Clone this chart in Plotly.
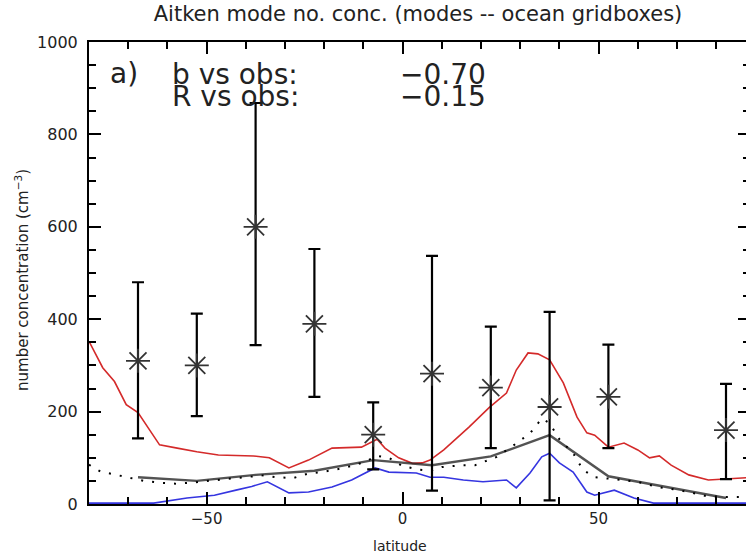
import plotly.graph_objects as go

# ---------------- data ----------------
red_lat = [-80, -76.5, -73.5, -70.5, -67.5, -65, -62, -57.5, -52.5, -47, -38, -34, -29, -24, -18,
           -10.5, -6.5, -4.5, -1, 2.5, 5, 7, 10.5, 17, 22, 26.5, 29, 32, 34.5, 37.5, 41, 44.5, 47,
           49, 52.5, 56.5, 60, 63, 65.5, 68.5, 73, 78, 82, 88, 90]
red_val = [352, 295, 265, 215, 198, 167, 128, 121, 113, 106, 104, 100, 78, 95, 121,
           123, 140, 121, 100, 88, 89, 95, 117, 167, 208, 240, 290, 327, 325, 312, 262, 188, 154,
           149, 123, 132, 117, 100, 104, 84, 63, 52, 54, 57, 58]

blue_lat = [-80, -63.5, -55, -48, -42.5, -38.5, -34.5, -29, -24, -18, -13, -7, -3.5, 0.5, 3.5, 7,
            10.5, 15.5, 20.5, 26.5, 29, 32.5, 35.5, 37.5, 40, 43.5, 47, 49, 54, 59, 64, 90]
blue_val = [2, 2, 13, 19, 30, 38, 48, 24, 26, 37, 52, 78, 69, 67, 67, 58,
            58, 52, 48, 52, 35, 67, 102, 110, 89, 69, 26, 19, 30, 13, 2, 2]

mean_lat = [-67.5, -52.5, -37.5, -22.5, -7.5, 7.5, 22.5, 37.5, 52.5, 67.5, 82.5]
mean_val = [58, 50, 63, 72, 95, 84, 103, 149, 60, 36, 13]

dot_lat = [-80, -77, -73, -70, -66, -62, -58, -54, -50, -45, -40, -36, -32, -28, -24, -20, -15, -10,
           -6.5, -3.5, 0, 4.5, 7, 10, 15.5, 18.5, 24, 28, 32.5, 35.5, 37.5, 40, 43.5, 46, 49, 52,
           56, 60, 65, 69, 73, 77, 82, 86, 90]
dot_val = [85, 70, 63, 57, 50, 46, 44, 46, 50, 54, 58, 62, 58, 56, 66, 70, 78, 90,
           104, 100, 82, 74, 72, 80, 84, 84, 102, 125, 153, 185, 175, 140, 110, 74, 58, 56,
           52, 48, 37, 32, 26, 18, 15, 15, 15]

obs_lat = [-67.5, -52.5, -37.5, -22.5, -7.5, 7.5, 22.5, 37.5, 52.5, 82.5]
obs_val = [310, 300, 600, 390, 150, 282, 252, 210, 232, 160]
obs_hi = [480, 412, 868, 552, 220, 537, 384, 416, 345, 260]
obs_lo = [142, 190, 344, 232, 75, 29, 121, 8, 121, 54]

x_ticks = [-50, 0, 50]
y_ticks = [0, 200, 400, 600, 800, 1000]

title_text = "Aitken mode no. conc. (modes -- ocean gridboxes)"
xlabel = "latitude"
ylabel = "number concentration (cm<sup>−3</sup>)"
stat_labels = ["b vs obs:", "R vs obs:"]
stat_values = ["−0.70", "−0.15"]
panel_label = "a)"

# ---------------- figure ----------------
FONT = "DejaVu Sans"
TXT = "#222222"

fig = go.Figure()

fig.add_trace(go.Scatter(x=red_lat, y=red_val, mode="lines",
                         line=dict(color="#d42a2a", width=1.6), hoverinfo="skip"))
fig.add_trace(go.Scatter(x=blue_lat, y=blue_val, mode="lines",
                         line=dict(color="#3535e0", width=1.6), hoverinfo="skip"))
fig.add_trace(go.Scatter(x=mean_lat, y=mean_val, mode="lines",
                         line=dict(color="rgba(40,40,40,0.8)", width=2.4), hoverinfo="skip"))
fig.add_trace(go.Scatter(x=dot_lat, y=dot_val, mode="lines",
                         line=dict(color="black", width=2, dash="2px,9px"), hoverinfo="skip"))

err_plus = [h - v for h, v in zip(obs_hi, obs_val)]
err_minus = [v - l for v, l in zip(obs_val, obs_lo)]
fig.add_trace(go.Scatter(
    x=obs_lat, y=obs_val, mode="markers",
    marker=dict(symbol="asterisk-open", size=20, color="#333333",
                line=dict(color="#333333", width=1.8)),
    error_y=dict(type="data", symmetric=False, array=err_plus, arrayminus=err_minus,
                 color="black", thickness=2.2, width=6),
    hoverinfo="skip"))

# empty trace so the right-side tick axis is drawn
fig.add_trace(go.Scatter(x=[None], y=[None], yaxis="y2", mode="lines", hoverinfo="skip"))

L, R, T, B = 89, 0, 42, 54
W, H = 746, 558
pw, ph = W - L - R, H - T - B


def px_x(px):
    return (px - L) / pw


def px_y(py):
    return (H - B - py) / ph


annotations = [
    dict(text=panel_label, x=px_x(108), y=px_y(73), xref="paper", yref="paper",
         xanchor="left", yanchor="middle", showarrow=False,
         font=dict(family=FONT, size=28, color=TXT)),
]
for i, (lab, val) in enumerate(zip(stat_labels, stat_values)):
    yy = px_y(74 + 22 * i)
    annotations.append(dict(text=lab, x=px_x(170), y=yy, xref="paper", yref="paper",
                            xanchor="left", yanchor="middle", showarrow=False,
                            font=dict(family=FONT, size=28, color=TXT)))
    annotations.append(dict(text=val, x=px_x(398), y=yy, xref="paper", yref="paper",
                            xanchor="left", yanchor="middle", showarrow=False,
                            font=dict(family=FONT, size=28, color=TXT)))
annotations.append(dict(text=xlabel, x=px_x(400), y=px_y(546), xref="paper", yref="paper",
                        xanchor="center", yanchor="middle", showarrow=False,
                        font=dict(family=FONT, size=14, color=TXT)))
annotations.append(dict(text=ylabel, x=px_x(22), y=px_y(280), xref="paper", yref="paper",
                        xanchor="center", yanchor="middle", showarrow=False, textangle=-90,
                        font=dict(family=FONT, size=15, color=TXT)))

fig.update_layout(
    width=W, height=H,
    margin=dict(l=L, r=R, t=T, b=B, pad=0),
    paper_bgcolor="white", plot_bgcolor="white",
    showlegend=False,
    title=dict(text=title_text, x=px_x(418), xref="paper", xanchor="center",
               y=1 - 14 / H, yref="container", yanchor="middle",
               font=dict(family=FONT, size=21, color=TXT)),
    font=dict(family=FONT, color=TXT),
    xaxis=dict(range=[-80, -80 + pw / 3.92], showline=True, linecolor="black", linewidth=2,
               mirror="ticks", ticks="inside", ticklen=12, tickwidth=2, tickcolor="black",
               tickvals=x_ticks, showgrid=False, zeroline=False,
               tickfont=dict(family=FONT, size=15, color=TXT),
               minor=dict(dtick=10, tick0=0, ticks="inside", ticklen=7, tickwidth=2,
                          tickcolor="black", showgrid=False)),
    yaxis=dict(range=[0, 1000], showline=True, linecolor="black", linewidth=2,
               mirror=False, ticks="inside", ticklen=12, tickwidth=2, tickcolor="black",
               tickvals=y_ticks, showgrid=False, zeroline=False,
               tickfont=dict(family=FONT, size=16, color=TXT), ticklabelstandoff=6,
               minor=dict(dtick=50, tick0=0, ticks="inside", ticklen=7, tickwidth=2,
                          tickcolor="black", showgrid=False)),
    yaxis2=dict(range=[0, 1000], overlaying="y", side="right", showline=False,
                ticks="inside", ticklen=8, tickwidth=2, tickcolor="black",
                tickvals=y_ticks, showticklabels=False, showgrid=False, zeroline=False,
                minor=dict(dtick=50, tick0=0, ticks="inside", ticklen=3, tickwidth=2,
                           tickcolor="black", showgrid=False)),
    annotations=annotations,
)

fig.write_html("out.html")
